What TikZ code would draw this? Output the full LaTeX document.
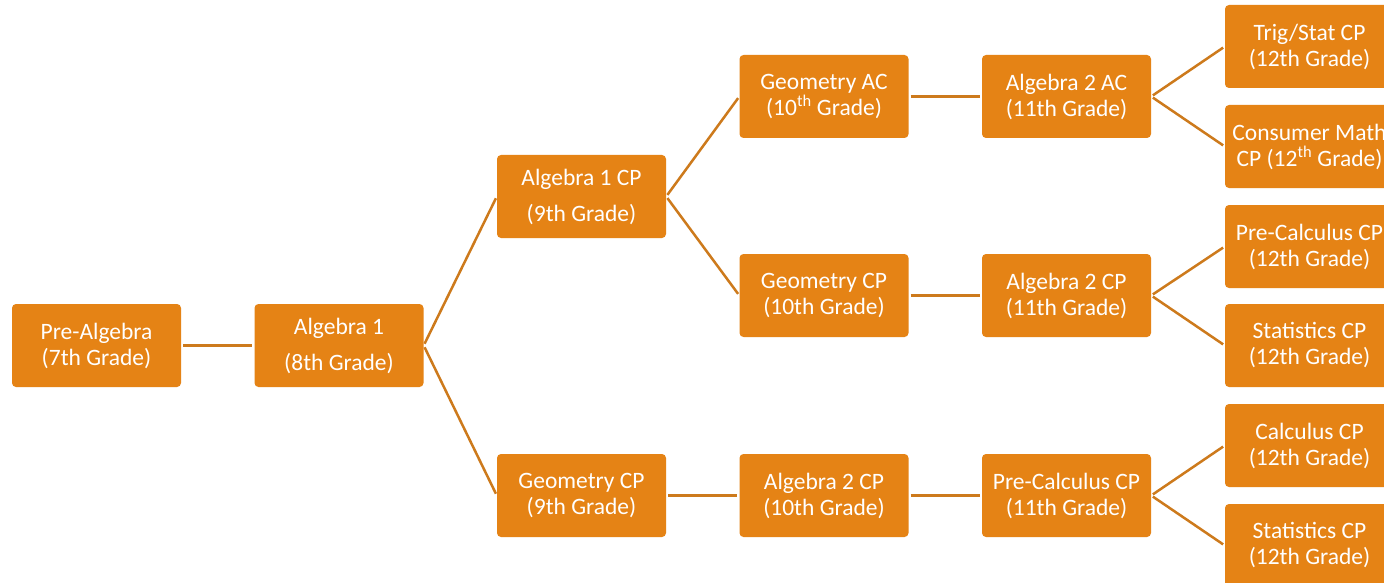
\documentclass[tikz,border=0pt]{standalone}
\usepackage{fontspec}
\setmainfont{Carlito}
\definecolor{boxorange}{RGB}{229,131,21}
\definecolor{lineorange}{RGB}{205,122,28}
\tikzset{
  course/.style={fill=boxorange,rounded corners=4pt,minimum width=169pt,minimum height=83pt,
    inner sep=0pt,text=white,align=center,font=\fontsize{23.5}{26}\selectfont},
  link/.style={draw=lineorange,line width=2.5pt,shorten <=2pt,shorten >=2pt}
}
\begin{document}
\begin{tikzpicture}[x=1pt,y=-1pt]
	\fill[white] (0,0) rectangle (1384,583);
	\useasboundingbox (0,0) rectangle (1384,583);
	% 7th and 8th grade
	\node[course] (prealg) at (96.5,345.5) {Pre-Algebra\\(7th Grade)};
	\node[course] (alg1) at (339,345.5) {Algebra 1\\[10pt](8th Grade)};
	% 9th grade
	\node[course] (alg1cp) at (581.5,196.5) {Algebra 1 CP\\[10pt](9th Grade)};
	\node[course] (geocpA) at (581.5,495.5) {Geometry CP\\(9th Grade)};
	% 10th grade
	\node[course] (geoac) at (824,96.5) {Geometry AC\\(10\textsuperscript{th} Grade)};
	\node[course] (geocpB) at (824,295.5) {Geometry CP\\(10th Grade)};
	\node[course] (alg2cpA) at (824,495.5) {Algebra 2 CP\\(10th Grade)};
	% 11th grade
	\node[course] (alg2ac) at (1066.5,96.5) {Algebra 2 AC\\(11th Grade)};
	\node[course] (alg2cpB) at (1066.5,295.5) {Algebra 2 CP\\(11th Grade)};
	\node[course] (precalcA) at (1066.5,495.5) {Pre-Calculus CP\\(11th Grade)};
	% 12th grade
	\node[course] (trig) at (1309.5,46.5) {Trig/Stat CP\\(12th Grade)};
	\node[course] (consumer) at (1309.5,146.5) {Consumer Math\\CP (12\textsuperscript{th} Grade)};
	\node[course] (precalcB) at (1309.5,246.5) {Pre-Calculus CP\\(12th Grade)};
	\node[course] (statsA) at (1309.5,345.5) {Statistics CP\\(12th Grade)};
	\node[course] (calc) at (1309.5,445.5) {Calculus CP\\(12th Grade)};
	\node[course] (statsB) at (1309.5,545.5) {Statistics CP\\(12th Grade)};
	% links
	\foreach \a/\b in {prealg/alg1,alg1/alg1cp,alg1/geocpA,alg1cp/geoac,alg1cp/geocpB,
	  geocpA/alg2cpA,geoac/alg2ac,geocpB/alg2cpB,alg2cpA/precalcA,alg2ac/trig,alg2ac/consumer,
	  alg2cpB/precalcB,alg2cpB/statsA,precalcA/calc,precalcA/statsB}
		\draw[link] (\a.east) -- (\b.west);
\end{tikzpicture}
\end{document}
